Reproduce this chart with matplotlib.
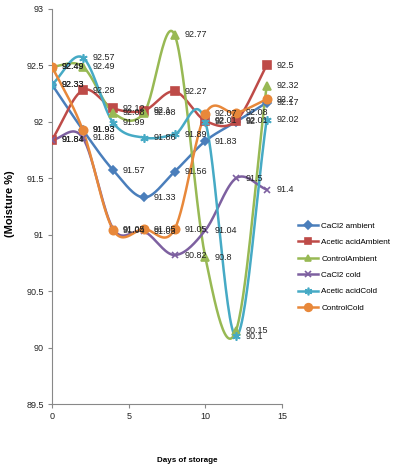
import numpy as np
import matplotlib
matplotlib.use("Agg")
import matplotlib.pyplot as plt

days = [0, 2, 4, 6, 8, 10, 12, 14]
series_names = ["CaCl2 ambient", "Acetic acidAmbient", "ControlAmbient",
                "CaCl2 cold", "Acetic acidCold", "ControlCold"]
cacl2_ambient = [92.33, 91.93, 91.57, 91.33, 91.56, 91.83, 92.00, 92.17]
acetic_ambient = [91.84, 92.28, 92.12, 92.10, 92.27, 92.01, 92.01, 92.50]
control_ambient = [92.49, 92.49, 92.08, 92.08, 92.77, 90.80, 90.15, 92.32]
cacl2_cold = [91.84, 91.86, 91.05, 91.03, 90.82, 91.04, 91.50, 91.40]
acetic_cold = [92.33, 92.57, 91.99, 91.86, 91.89, 92.00, 90.10, 92.02]
control_cold = [92.49, 91.93, 91.04, 91.05, 91.05, 92.07, 92.08, 92.20]
xticks = [0, 5, 10, 15]
yticks = [89.5, 90, 90.5, 91, 91.5, 92, 92.5, 93]

colors = ["#4A7EBB", "#BE4B48", "#98B954", "#7D60A0", "#46AAC5", "#E8883A"]
markers = ["D", "s", "^", "x", (6, 2, 0), "o"]
msizes = [4.5, 5.5, 5.5, 5, 6, 6]
data = [cacl2_ambient, acetic_ambient, control_ambient, cacl2_cold, acetic_cold, control_cold]


def catmull(x, y, n=30):
    x = np.asarray(x, float); y = np.asarray(y, float)
    px = np.concatenate([[2 * x[0] - x[1]], x, [2 * x[-1] - x[-2]]])
    py = np.concatenate([[2 * y[0] - y[1]], y, [2 * y[-1] - y[-2]]])
    xs, ys = [], []
    for i in range(1, len(px) - 2):
        t = np.linspace(0, 1, n, endpoint=False)
        for arr, out in ((px, xs), (py, ys)):
            p0, p1, p2, p3 = arr[i - 1], arr[i], arr[i + 1], arr[i + 2]
            out.extend(0.5 * ((2 * p1) + (-p0 + p2) * t + (2 * p0 - 5 * p1 + 4 * p2 - p3) * t ** 2
                              + (-p0 + 3 * p1 - 3 * p2 + p3) * t ** 3))
    xs.append(x[-1]); ys.append(y[-1])
    return np.array(xs), np.array(ys)


plt.rcParams['font.family'] = ['Liberation Sans', 'DejaVu Sans']
fig = plt.figure(figsize=(3.99, 4.68), dpi=100)
ax = fig.add_axes([52 / 399, 1 - 404 / 468, 230 / 399, 395 / 468])

handles = []
for name, vals, c, m, ms in zip(series_names, data, colors, markers, msizes):
    sx, sy = catmull(days, vals)
    ax.plot(sx, sy, color=c, lw=1.8, solid_capstyle='round', zorder=2)
    ax.plot(days, vals, linestyle='none', marker=m, color=c, ms=ms,
            mec=c, mew=1.2, zorder=3)
    h, = ax.plot([], [], color=c, lw=1.8, marker=m, ms=ms - 0.5, mec=c, mew=1.2)
    handles.append(h)
    for xv, yv in zip(days, vals):
        lab = f"{yv:g}"
        ax.annotate(lab, (xv, yv), xytext=(7, 0), textcoords='offset points',
                    ha='left', va='center', fontsize=6.5, color='#222222', zorder=4)

ax.set_xlim(0, 15)
ax.set_ylim(89.5, 93)
ax.set_xticks(xticks)
ax.set_yticks(yticks)
ax.set_xticklabels([f"{t:g}" for t in xticks])
ax.set_yticklabels([f"{t:g}" for t in yticks])
ax.tick_params(direction='out', length=3, width=0.8, color='#888888',
               labelsize=6.5, labelcolor='#222222', pad=3)
for s in ['top', 'right']:
    ax.spines[s].set_visible(False)
for s in ['left', 'bottom']:
    ax.spines[s].set_color('#888888')
    ax.spines[s].set_linewidth(0.8)

fig.text(10 / 399, 1 - 204 / 468, "(Moisture %)", rotation=90, ha='center', va='center',
         fontsize=8, fontweight='bold')
fig.text(187 / 399, 1 - 460 / 468, "Days of storage", ha='center', va='center',
         fontsize=5.8, fontweight='bold')

fig.legend(handles, series_names, loc='upper left', bbox_to_anchor=(295 / 399, 1 - 219 / 468),
           frameon=False, fontsize=5.9, handlelength=2.4, labelspacing=1.05,
           handletextpad=0.4, borderaxespad=0)

fig.savefig("out.png", dpi=100)
